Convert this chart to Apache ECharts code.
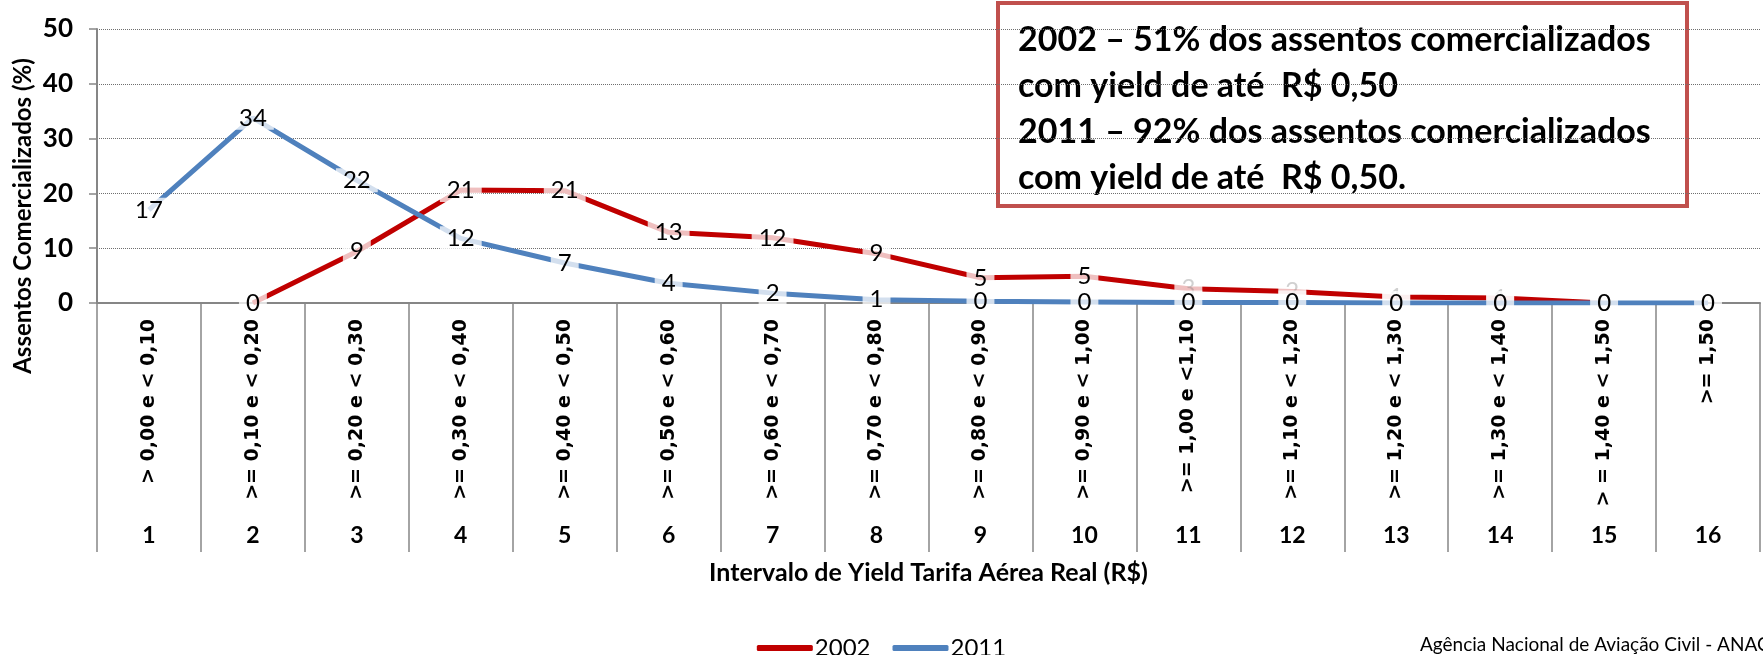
<!DOCTYPE html>
<html>
<head>
<meta charset="utf-8">
<script src="https://cdn.jsdelivr.net/npm/echarts@6/dist/echarts.min.js"></script>
<style>
  html, body { margin: 0; padding: 0; background: #fff; }
  #chart { width: 1763px; height: 655px; }
</style>
</head>
<body>
<div id="chart"></div>
<script>
// faixas de yield (R$)
var faixas = [
  "> 0,00 e < 0,10", ">= 0,10 e < 0,20", ">= 0,20 e < 0,30", ">= 0,30 e < 0,40",
  ">= 0,40 e < 0,50", ">= 0,50 e < 0,60", ">= 0,60 e < 0,70", ">= 0,70 e < 0,80",
  ">= 0,80 e < 0,90", ">= 0,90 e < 1,00", ">= 1,00 e <1,10", ">= 1,10 e < 1,20",
  ">= 1,20 e < 1,30", ">= 1,30 e < 1,40", "> = 1,40 e < 1,50", ">= 1,50"
];
var numeros = ["1", "2", "3", "4", "5", "6", "7", "8", "9", "10", "11", "12", "13", "14", "15", "16"];
var yTicks = [0, 10, 20, 30, 40, 50];

// % de assentos comercializados
var dados2002 = [null, 0, 9.4, 20.6, 20.5, 12.9, 11.9, 9.0, 4.6, 4.9, 2.6, 2.1, 1.1, 0.9, 0, null];
var dados2011 = [17, 33.8, 22.4, 11.8, 7.3, 3.6, 1.8, 0.6, 0.3, 0.2, 0.1, 0.1, 0, 0, 0, 0];

var nota = [
  "2002 – 51% dos assentos comercializados",
  "com yield de até  R$ 0,50",
  "2011 – 92% dos assentos comercializados",
  "com yield de até  R$ 0,50."
];

var cinza = "#868686";
var fonte = "Lato, 'Open Sans', sans-serif";

var chart = echarts.init(document.getElementById("chart"));

function rotulo(faint) {
  return {
    show: true,
    position: "inside",
    fontFamily: fonte,
    fontSize: 24,
    color: "#000",
    backgroundColor: "rgba(255,255,255,0.75)",
    padding: [0, 7],
    formatter: function (p) {
      var v = Math.round(p.value);
      if (faint && p.value > 0 && p.value < 3) return "{f|" + v + "}";
      return "" + v;
    },
    rich: { f: { color: "rgba(120,120,120,0.35)", fontSize: 24, fontFamily: fonte } }
  };
}

var option = {
  backgroundColor: "#fff",
  animation: false,
  grid: { left: 97, right: 3, top: 29, bottom: 352, containLabel: false },
  legend: {
    data: ["2002", "2011"],
    left: "center",
    top: 631,
    icon: "roundRect",
    itemWidth: 56,
    itemHeight: 6,
    itemGap: 22,
    textStyle: { fontFamily: fonte, fontSize: 24, color: "#000", padding: [0, 0, 0, -3] }
  },
  xAxis: [
    {
      type: "category",
      data: faixas,
      boundaryGap: true,
      axisLine: { lineStyle: { color: cinza, width: 2 } },
      axisTick: { show: true, interval: 0, length: 249, lineStyle: { color: cinza, width: 1.5 } },
      axisLabel: {
        interval: 0,
        rotate: 90,
        margin: 16,
        color: "#000",
        fontFamily: "'DejaVu Sans', Verdana, sans-serif",
        fontWeight: "bold",
        fontSize: 19
      },
      splitLine: { show: false }
    },
    {
      type: "category",
      data: numeros,
      position: "bottom",
      boundaryGap: true,
      axisLine: { show: false },
      axisTick: { show: false },
      axisLabel: {
        interval: 0,
        margin: 221,
        color: "#000",
        fontFamily: fonte,
        fontWeight: "bold",
        fontSize: 23
      },
      name: "Intervalo de Yield Tarifa Aérea Real (R$)",
      nameLocation: "middle",
      nameGap: 257,
      nameTextStyle: { fontFamily: fonte, fontWeight: "bold", fontSize: 25, color: "#000" }
    }
  ],
  yAxis: {
    type: "value",
    min: yTicks[0],
    max: yTicks[yTicks.length - 1],
    interval: 10,
    axisLine: { show: true, lineStyle: { color: cinza, width: 2 } },
    axisTick: { show: true, length: 8, lineStyle: { color: cinza, width: 1.5 } },
    axisLabel: { margin: 24, color: "#000", fontFamily: fonte, fontWeight: "bold", fontSize: 26 },
    splitLine: { show: true, lineStyle: { color: "#6f6f6f", type: "dotted", width: 1 } }
  },
  series: [
    {
      name: "2002",
      type: "line",
      data: dados2002,
      xAxisIndex: 0,
      showSymbol: true,
      symbol: "circle",
      symbolSize: 0.1,
      connectNulls: false,
      itemStyle: { color: "#C00000" },
      lineStyle: { color: "#C00000", width: 5 },
      label: rotulo(true),
      z: 2
    },
    {
      name: "2011",
      type: "line",
      data: dados2011,
      xAxisIndex: 0,
      showSymbol: true,
      symbol: "circle",
      symbolSize: 0.1,
      itemStyle: { color: "#4F81BD" },
      lineStyle: { color: "#4F81BD", width: 5 },
      label: rotulo(false),
      z: 3
    }
  ],
  graphic: [
    {
      type: "text",
      x: 23,
      y: 216,
      rotation: Math.PI / 2,
      style: {
        text: "Assentos Comercializados (%)",
        font: "bold 24px " + fonte,
        fill: "#000",
        align: "center",
        verticalAlign: "middle"
      }
    },
    {
      type: "group",
      z: 100,
      children: [
        {
          type: "rect",
          shape: { x: 998, y: 3, width: 689, height: 203 },
          style: { fill: "#fff", stroke: "#C0504D", lineWidth: 4 }
        },
        {
          type: "text",
          x: 1018,
          y: 17,
          style: {
            text: nota.join("\n"),
            font: "bold 34px " + fonte,
            lineHeight: 46,
            fill: "#000",
            verticalAlign: "top"
          }
        }
      ]
    },
    {
      type: "text",
      x: 1420,
      y: 645,
      style: {
        text: "Agência Nacional de Aviação Civil - ANAC",
        font: "19px " + fonte,
        fill: "#000",
        verticalAlign: "middle"
      }
    }
  ]
};

chart.setOption(option);
</script>
</body>
</html>
